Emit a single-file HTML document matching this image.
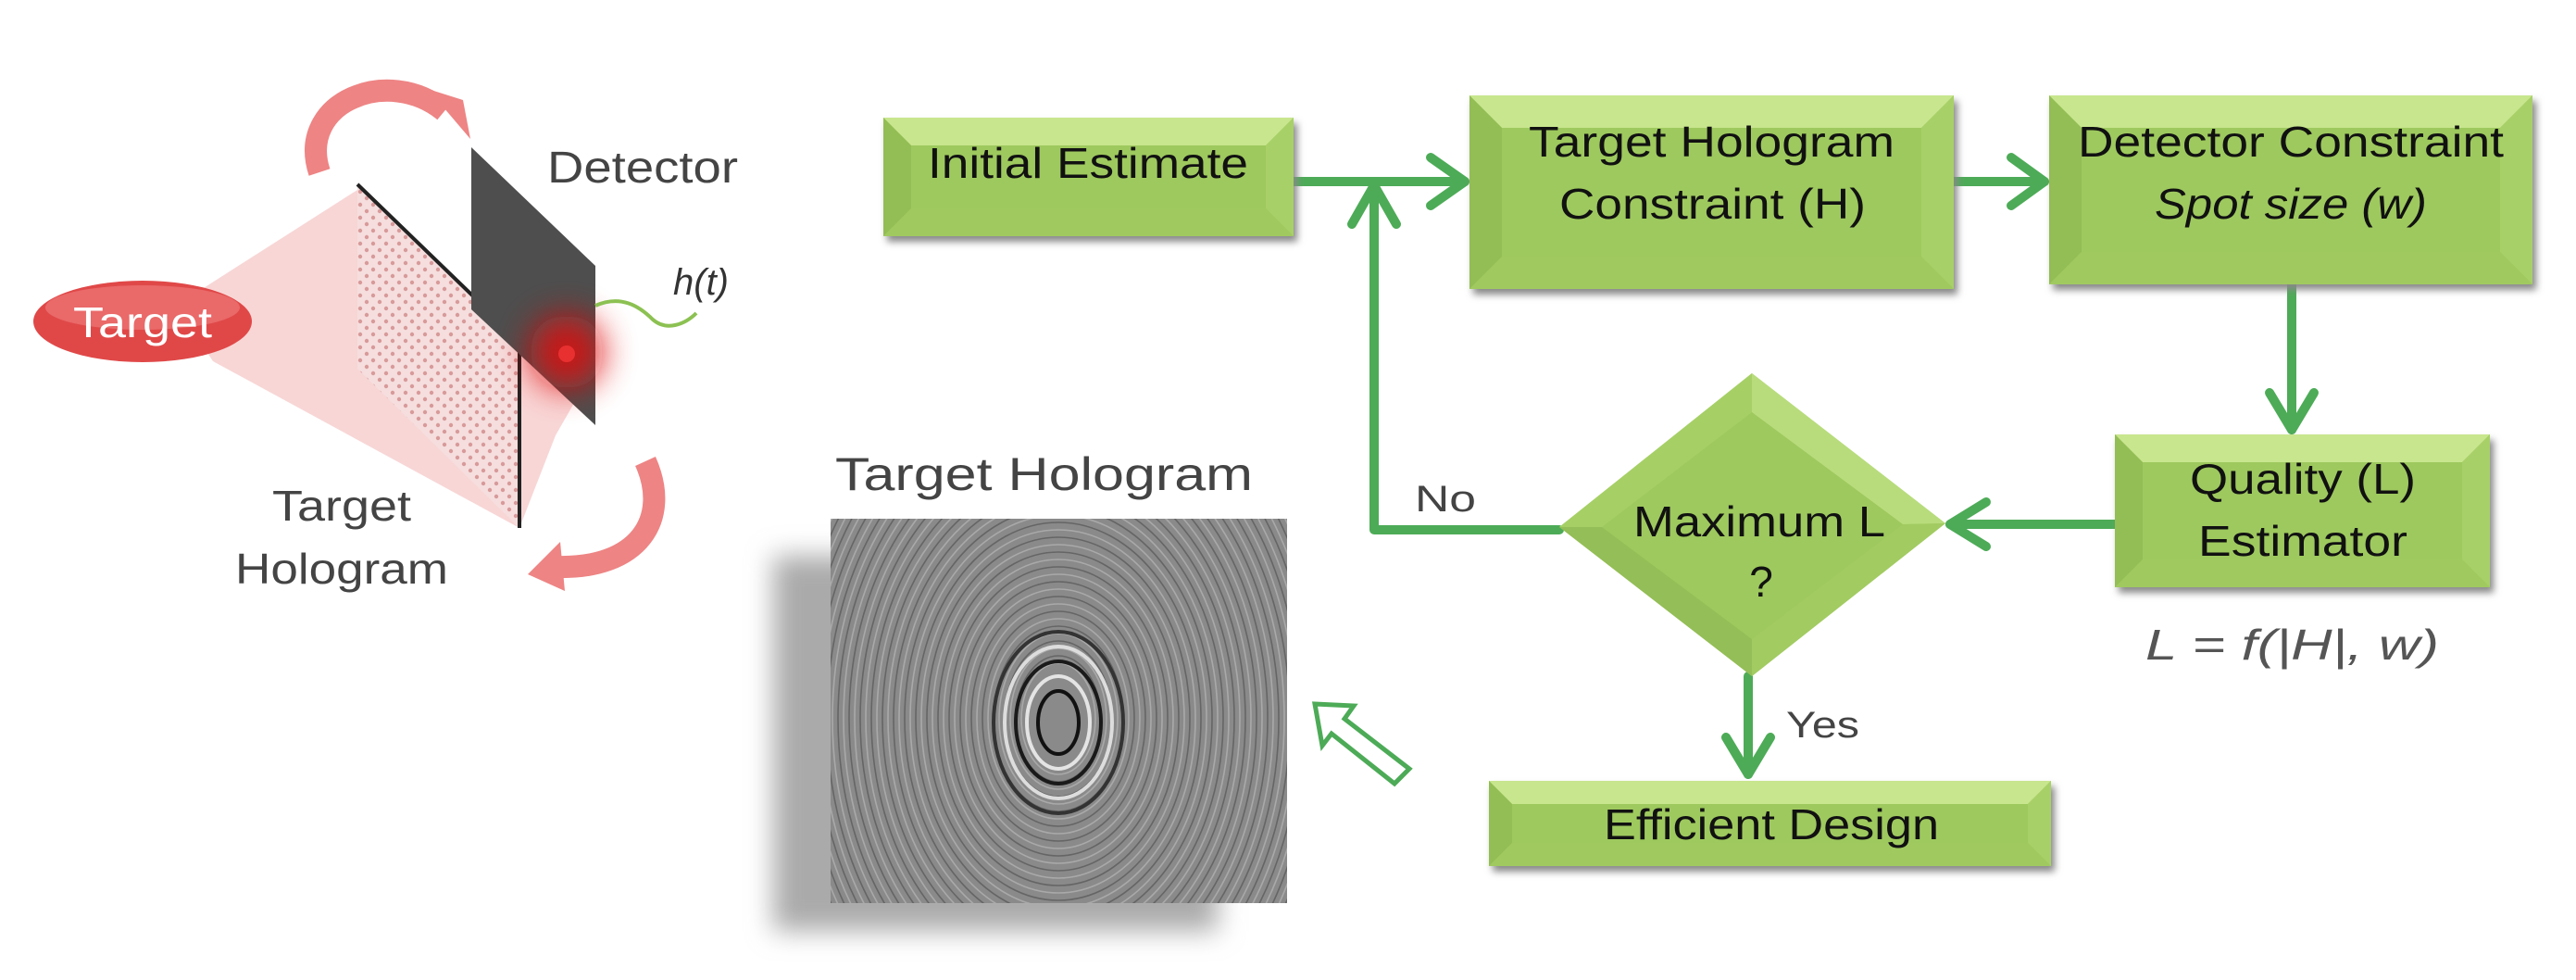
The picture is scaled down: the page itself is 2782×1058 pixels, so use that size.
<!DOCTYPE html>
<html><head><meta charset="utf-8"><style>
html,body{margin:0;padding:0;background:#fff;width:2782px;height:1058px;overflow:hidden}
svg{display:block}
text{font-family:"Liberation Sans",sans-serif}
</style></head><body>
<svg width="2782" height="1058" viewBox="0 0 2782 1058" xmlns="http://www.w3.org/2000/svg">
<defs>
<filter id="sh" x="-20%" y="-20%" width="140%" height="140%"><feGaussianBlur stdDeviation="4"/></filter>
<filter id="sh2" x="-20%" y="-20%" width="140%" height="140%"><feGaussianBlur stdDeviation="14"/></filter>
<filter id="glow" x="-100%" y="-100%" width="300%" height="300%"><feGaussianBlur stdDeviation="18"/></filter>
<pattern id="dots" width="14" height="14" patternUnits="userSpaceOnUse"><rect width="14" height="14" fill="#f6dede"/><circle cx="4" cy="4" r="2.2" fill="#d89a9a"/><circle cx="11" cy="11" r="2.2" fill="#d89a9a"/></pattern>
<clipPath id="hc"><rect x="897" y="560" width="493" height="415"/></clipPath>
</defs>

<!-- LEFT ILLUSTRATION -->
<polygon points="190,330 386,205 561,368 643,395 600,470 561,570 230,390" fill="#f7d2d2" opacity="0.9"/>
<polygon points="386,199 561,368 561,570 386,398" fill="url(#dots)"/>
<polyline points="386,199 561,368 561,570" fill="none" stroke="#222" stroke-width="4"/>
<polygon points="509,159 643,287 643,459 509,334" fill="#4e4e4e"/>
<circle cx="612" cy="380" r="40" fill="#e01010" filter="url(#glow)" opacity="0.85"/>
<circle cx="612" cy="382" r="9" fill="#e83030"/>
<path d="M643,330 C670,318 690,330 705,345 C720,358 740,350 752,338" fill="none" stroke="#8cc152" stroke-width="4"/>
<text x="727" y="318" font-family="Liberation Serif,serif" font-style="italic" font-size="40" fill="#333">h(t)</text>
<text x="591" y="197" font-size="48" fill="#444" textLength="206" lengthAdjust="spacingAndGlyphs">Detector</text>
<ellipse cx="154" cy="347" rx="118" ry="44" fill="#e04848"/>
<ellipse cx="154" cy="332" rx="105" ry="24" fill="#f08080" opacity="0.6"/>
<text x="154" y="364" text-anchor="middle" font-size="46" fill="#fff" textLength="150" lengthAdjust="spacingAndGlyphs">Target</text>
<path d="M345,186 C320,110 420,70 480,120" fill="none" stroke="#ee8484" stroke-width="24"/>
<polygon points="462,96 508,150 500,108" fill="#ee8484"/>
<path d="M697,498 C725,560 690,615 600,612" fill="none" stroke="#ee8484" stroke-width="24"/>
<polygon points="605,585 570,620 610,638" fill="#ee8484"/>
<text x="369" y="562" text-anchor="middle" font-size="46" fill="#444" textLength="150" lengthAdjust="spacingAndGlyphs">Target</text>
<text x="369" y="630" text-anchor="middle" font-size="46" fill="#444" textLength="230" lengthAdjust="spacingAndGlyphs">Hologram</text>

<!-- HOLOGRAM IMAGE -->
<text x="902" y="529" font-size="50" fill="#444" textLength="451" lengthAdjust="spacingAndGlyphs">Target Hologram</text>
<rect x="835" y="600" width="480" height="405" fill="#aaa" filter="url(#sh2)"/>
<rect x="897" y="560" width="493" height="415" fill="#8a8a8a"/>
<g clip-path="url(#hc)" fill="none">
<g stroke="#d0d0d0" stroke-width="1.6" opacity="0.45">
<ellipse cx="1143" cy="776" rx="40" ry="60"/><ellipse cx="1143" cy="776" rx="52" ry="76"/><ellipse cx="1143" cy="776" rx="64" ry="92"/><ellipse cx="1143" cy="776" rx="76" ry="108"/><ellipse cx="1143" cy="776" rx="88" ry="124"/><ellipse cx="1143" cy="776" rx="100" ry="140"/><ellipse cx="1143" cy="776" rx="112" ry="156"/><ellipse cx="1143" cy="776" rx="124" ry="172"/><ellipse cx="1143" cy="776" rx="136" ry="188"/><ellipse cx="1143" cy="776" rx="148" ry="204"/><ellipse cx="1143" cy="776" rx="160" ry="220"/><ellipse cx="1143" cy="776" rx="172" ry="236"/><ellipse cx="1143" cy="776" rx="184" ry="252"/><ellipse cx="1143" cy="776" rx="196" ry="268"/><ellipse cx="1143" cy="776" rx="208" ry="284"/><ellipse cx="1143" cy="776" rx="220" ry="300"/><ellipse cx="1143" cy="776" rx="232" ry="316"/><ellipse cx="1143" cy="776" rx="244" ry="332"/><ellipse cx="1143" cy="776" rx="256" ry="348"/><ellipse cx="1143" cy="776" rx="268" ry="364"/><ellipse cx="1143" cy="776" rx="280" ry="380"/><ellipse cx="1143" cy="776" rx="292" ry="396"/><ellipse cx="1143" cy="776" rx="304" ry="412"/><ellipse cx="1143" cy="776" rx="316" ry="428"/>
</g>
<g stroke="#3a3a3a" stroke-width="1.6" opacity="0.45">
<ellipse cx="1143" cy="776" rx="46" ry="68"/><ellipse cx="1143" cy="776" rx="58" ry="84"/><ellipse cx="1143" cy="776" rx="70" ry="100"/><ellipse cx="1143" cy="776" rx="82" ry="116"/><ellipse cx="1143" cy="776" rx="94" ry="132"/><ellipse cx="1143" cy="776" rx="106" ry="148"/><ellipse cx="1143" cy="776" rx="118" ry="164"/><ellipse cx="1143" cy="776" rx="130" ry="180"/><ellipse cx="1143" cy="776" rx="142" ry="196"/><ellipse cx="1143" cy="776" rx="154" ry="212"/><ellipse cx="1143" cy="776" rx="166" ry="228"/><ellipse cx="1143" cy="776" rx="178" ry="244"/><ellipse cx="1143" cy="776" rx="190" ry="260"/><ellipse cx="1143" cy="776" rx="202" ry="276"/><ellipse cx="1143" cy="776" rx="214" ry="292"/><ellipse cx="1143" cy="776" rx="226" ry="308"/><ellipse cx="1143" cy="776" rx="238" ry="324"/><ellipse cx="1143" cy="776" rx="250" ry="340"/><ellipse cx="1143" cy="776" rx="262" ry="356"/><ellipse cx="1143" cy="776" rx="274" ry="372"/><ellipse cx="1143" cy="776" rx="286" ry="388"/><ellipse cx="1143" cy="776" rx="298" ry="404"/><ellipse cx="1143" cy="776" rx="310" ry="420"/>
</g>
<g stroke-width="4">
<ellipse cx="1143" cy="780" rx="22" ry="34" stroke="#111"/><ellipse cx="1143" cy="780" rx="34" ry="50" stroke="#e4e4e4"/><ellipse cx="1143" cy="780" rx="46" ry="66" stroke="#1a1a1a"/><ellipse cx="1143" cy="780" rx="58" ry="82" stroke="#ddd"/><ellipse cx="1143" cy="780" rx="70" ry="98" stroke="#333"/>
</g>
</g>

<!-- hollow arrow -->
<polygon points="1420,760 1462,762 1452,776 1522,830 1506,846 1438,792 1428,805" fill="#fff" stroke="#4dab57" stroke-width="5" stroke-linejoin="miter"/>

<!-- CONNECTORS -->
<g stroke="#4dab57" stroke-width="10" fill="none" stroke-linecap="round" stroke-linejoin="round">
<line x1="1397" y1="196" x2="1582" y2="196"/>
<polyline points="1545,170 1582,196 1545,222"/>
<line x1="2110" y1="196" x2="2208" y2="196"/>
<polyline points="2172,170 2208,196 2172,222"/>
<polyline points="1684,572 1484,572 1484,200"/>
<polyline points="1460,242 1484,200 1508,242"/>
<line x1="2475" y1="307" x2="2475" y2="464"/>
<polyline points="2451,424 2475,464 2499,424"/>
<line x1="2284" y1="566" x2="2106" y2="566"/>
<polyline points="2145,542 2106,566 2145,590"/>
<line x1="1888" y1="730" x2="1888" y2="836"/>
<polyline points="1864,796 1888,836 1912,796"/>
</g>
<text x="1528" y="552" font-size="40" fill="#444" textLength="66" lengthAdjust="spacingAndGlyphs">No</text>
<text x="1929" y="796" font-size="40" fill="#444" textLength="79" lengthAdjust="spacingAndGlyphs">Yes</text>
<text x="2317" y="712" font-family="Liberation Serif,serif" font-style="italic" font-size="46" fill="#555" textLength="317" lengthAdjust="spacingAndGlyphs">L = f(|H|, w)</text>

<!-- BOXES -->
<g>
<rect x="958" y="133" width="443" height="128" fill="#888" filter="url(#sh)"/>
<rect x="954" y="127" width="443" height="128" fill="#9ec95e"/>
<polygon points="954,127 1397,127 1367,157 984,157" fill="#c8e68e"/>
<polygon points="954,127 984,157 984,225 954,255" fill="#93bd55"/>
<polygon points="1397,127 1367,157 1367,225 1397,255" fill="#a8d068"/>
<polygon points="954,255 984,225 1367,225 1397,255" fill="#a0ca60"/>
<text x="1002" y="192" font-size="46" fill="#111" textLength="346" lengthAdjust="spacingAndGlyphs">Initial Estimate</text>

<rect x="1591" y="109" width="523" height="209" fill="#888" filter="url(#sh)"/>
<rect x="1587" y="103" width="523" height="209" fill="#9ec95e"/>
<polygon points="1587,103 2110,103 2075,138 1622,138" fill="#c8e68e"/>
<polygon points="1587,103 1622,138 1622,277 1587,312" fill="#93bd55"/>
<polygon points="2110,103 2075,138 2075,277 2110,312" fill="#a8d068"/>
<polygon points="1587,312 1622,277 2075,277 2110,312" fill="#a0ca60"/>
<text x="1651" y="169" font-size="46" fill="#111" textLength="395" lengthAdjust="spacingAndGlyphs">Target Hologram</text>
<text x="1684" y="236" font-size="46" fill="#111" textLength="331" lengthAdjust="spacingAndGlyphs">Constraint (H)</text>

<rect x="2217" y="109" width="522" height="204" fill="#888" filter="url(#sh)"/>
<rect x="2213" y="103" width="522" height="204" fill="#9ec95e"/>
<polygon points="2213,103 2735,103 2700,138 2248,138" fill="#c8e68e"/>
<polygon points="2213,103 2248,138 2248,272 2213,307" fill="#93bd55"/>
<polygon points="2735,103 2700,138 2700,272 2735,307" fill="#a8d068"/>
<polygon points="2213,307 2248,272 2700,272 2735,307" fill="#a0ca60"/>
<text x="2244" y="169" font-size="46" fill="#111" textLength="460" lengthAdjust="spacingAndGlyphs">Detector Constraint</text>
<text x="2327" y="236" font-size="46" font-style="italic" fill="#111" textLength="294" lengthAdjust="spacingAndGlyphs">Spot size (w)</text>

<rect x="2288" y="475" width="405" height="165" fill="#888" filter="url(#sh)"/>
<rect x="2284" y="469" width="405" height="165" fill="#9ec95e"/>
<polygon points="2284,469 2689,469 2659,499 2314,499" fill="#c8e68e"/>
<polygon points="2284,469 2314,499 2314,604 2284,634" fill="#93bd55"/>
<polygon points="2689,469 2659,499 2659,604 2689,634" fill="#a8d068"/>
<polygon points="2284,634 2314,604 2659,604 2689,634" fill="#a0ca60"/>
<text x="2365" y="533" font-size="46" fill="#111" textLength="244" lengthAdjust="spacingAndGlyphs">Quality (L)</text>
<text x="2374" y="600" font-size="46" fill="#111" textLength="226" lengthAdjust="spacingAndGlyphs">Estimator</text>

<rect x="1612" y="849" width="607" height="92" fill="#888" filter="url(#sh)"/>
<rect x="1608" y="843" width="607" height="92" fill="#9ec95e"/>
<polygon points="1608,843 2215,843 2190,868 1633,868" fill="#c8e68e"/>
<polygon points="1608,843 1633,868 1633,910 1608,935" fill="#93bd55"/>
<polygon points="2215,843 2190,868 2190,910 2215,935" fill="#a8d068"/>
<polygon points="1608,935 1633,910 2190,910 2215,935" fill="#a0ca60"/>
<text x="1732" y="906" font-size="46" fill="#111" textLength="362" lengthAdjust="spacingAndGlyphs">Efficient Design</text>

<polygon points="1684,569 1892,403 2101,565 1892,730" fill="#9ec95e"/>
<polygon points="1684,569 1892,403 1892,445 1730,569" fill="#a6d066"/>
<polygon points="1892,403 2101,565 2055,566 1892,445" fill="#b8dc7c"/>
<polygon points="2101,565 1892,730 1892,690 2055,566" fill="#a2cb62"/>
<polygon points="1684,569 1730,569 1892,690 1892,730" fill="#94be57"/>
<text x="1764" y="579" font-size="46" fill="#111" textLength="272" lengthAdjust="spacingAndGlyphs">Maximum L</text>
<text x="1902" y="644" text-anchor="middle" font-size="46" fill="#111">?</text>
</g>
</svg>
</body></html>
